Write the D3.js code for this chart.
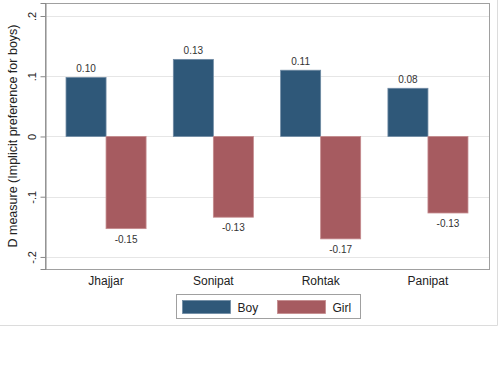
<!DOCTYPE html>
<html>
<head>
<meta charset="utf-8">
<script src="https://cdn.jsdelivr.net/npm/d3@7"></script>
<style>
  body { margin: 0; background: #fff; }
  svg { display: block; font-family: Arial, "Liberation Sans", sans-serif; }
</style>
</head>
<body>
<div id="chart"></div>
<script>
// districts and the two groups
const districts = ["Jhajjar", "Sonipat", "Rohtak", "Panipat"];
const groups = ["Boy", "Girl"];
const boyValues = [0.098, 0.128, 0.110, 0.080];
const girlValues = [-0.153, -0.134, -0.170, -0.127];
const boyLabels = ["0.10", "0.13", "0.11", "0.08"];
const girlLabels = ["-0.15", "-0.13", "-0.17", "-0.13"];
const yTicks = [0.2, 0.1, 0, -0.1, -0.2];
const yTickLabels = [".2", ".1", "0", "-.1", "-.2"];

const colors = { Boy: "#2f5879", Girl: "#a65b60" };

const W = 498, H = 377;
const margin = { top: 3, right: 9, bottom: 108, left: 45 };
const width = W - margin.left - margin.right;
const height = H - margin.top - margin.bottom;

const svg = d3.select("#chart").append("svg")
    .attr("width", W)
    .attr("height", H);

// outer graph frame (only right and bottom show)
svg.append("path")
    .attr("d", `M0,325.5 H497.5 V0`)
    .attr("fill", "none")
    .attr("stroke", "#dcdcdc");

const g = svg.append("g")
    .attr("transform", `translate(${margin.left},${margin.top})`);

const x = d3.scaleBand()
    .domain(districts)
    .range([0, width])
    .paddingInner(0.254)
    .paddingOuter(0.196);

const x1 = d3.scaleBand()
    .domain(groups)
    .range([0, x.bandwidth()]);

const y = d3.scaleLinear()
    .domain([-0.22, 0.2216])
    .range([height, 0]);

// gridlines
g.append("g")
    .selectAll("line")
    .data(yTicks)
    .join("line")
    .attr("x1", 0)
    .attr("x2", width)
    .attr("y1", d => Math.round(y(d)) + 0.5)
    .attr("y2", d => Math.round(y(d)) + 0.5)
    .attr("stroke", "#e6e6e6");

// bars
const rows = districts.map((d, i) => ({
    district: d,
    values: [
        { key: "Boy", value: boyValues[i], label: boyLabels[i] },
        { key: "Girl", value: girlValues[i], label: girlLabels[i] }
    ]
}));

const grp = g.selectAll("g.district")
    .data(rows)
    .join("g")
    .attr("class", "district")
    .attr("transform", d => `translate(${x(d.district)},0)`);

grp.selectAll("rect")
    .data(d => d.values)
    .join("rect")
    .attr("x", d => x1(d.key))
    .attr("width", x1.bandwidth())
    .attr("y", d => y(Math.max(0, d.value)))
    .attr("height", d => Math.abs(y(d.value) - y(0)))
    .attr("fill", d => colors[d.key])
    .attr("stroke", d => d.key === "Boy" ? "#6f8aa3" : "#c48a8d")
    .attr("stroke-width", 0.8);

grp.selectAll("text.val")
    .data(d => d.values)
    .join("text")
    .attr("class", "val")
    .attr("x", d => x1(d.key) + x1.bandwidth() / 2)
    .attr("y", d => d.value > 0 ? y(d.value) - 5 : y(d.value) + 14)
    .attr("text-anchor", "middle")
    .attr("font-size", 10)
    .attr("fill", "#333")
    .text(d => d.label);

// plot frame
g.append("rect")
    .attr("x", 0.5)
    .attr("y", 0.5)
    .attr("width", width)
    .attr("height", height)
    .attr("fill", "none")
    .attr("stroke", "#a0a0a0");

// y axis
const yAxis = g.append("g")
    .attr("transform", "translate(0.5,0)")
    .call(d3.axisLeft(y).tickValues(yTicks).tickSize(5).tickFormat((d, i) => yTickLabels[i]));
yAxis.select(".domain").attr("stroke", "#888");
yAxis.selectAll(".tick line").attr("stroke", "#888");
yAxis.selectAll(".tick text")
    .attr("transform", "rotate(-90)")
    .attr("x", 0)
    .attr("y", -10)
    .attr("dy", 0)
    .attr("text-anchor", "middle")
    .attr("font-size", 11)
    .attr("font-family", "Arial, 'Liberation Sans', sans-serif")
    .attr("fill", "#222");

// x axis labels
g.append("g")
    .selectAll("text")
    .data(districts)
    .join("text")
    .attr("x", d => x(d) + x.bandwidth() / 2)
    .attr("y", height + 16)
    .attr("text-anchor", "middle")
    .attr("font-size", 12)
    .attr("fill", "#222")
    .text(d => d);

// y axis title
svg.append("text")
    .attr("transform", `translate(17,${margin.top + height / 2}) rotate(-90)`)
    .attr("text-anchor", "middle")
    .attr("font-size", 12.5)
    .attr("fill", "#222")
    .text("D measure (Implicit preference for boys)");

// legend
const legend = svg.append("g").attr("transform", "translate(176.5,294.5)");
legend.append("rect")
    .attr("width", 184)
    .attr("height", 24)
    .attr("fill", "#fff")
    .attr("stroke", "#a0a0a0");
const items = legend.selectAll("g.item")
    .data(groups)
    .join("g")
    .attr("class", "item")
    .attr("transform", (d, i) => `translate(${6 + i * 95},6)`);
items.append("rect")
    .attr("width", 48)
    .attr("height", 13)
    .attr("fill", d => colors[d])
    .attr("stroke", d => d === "Boy" ? "#6f8aa3" : "#c48a8d")
    .attr("stroke-width", 0.8);
items.append("text")
    .attr("x", 55)
    .attr("y", 11)
    .attr("font-size", 12)
    .attr("fill", "#222")
    .text(d => d);
</script>
</body>
</html>
